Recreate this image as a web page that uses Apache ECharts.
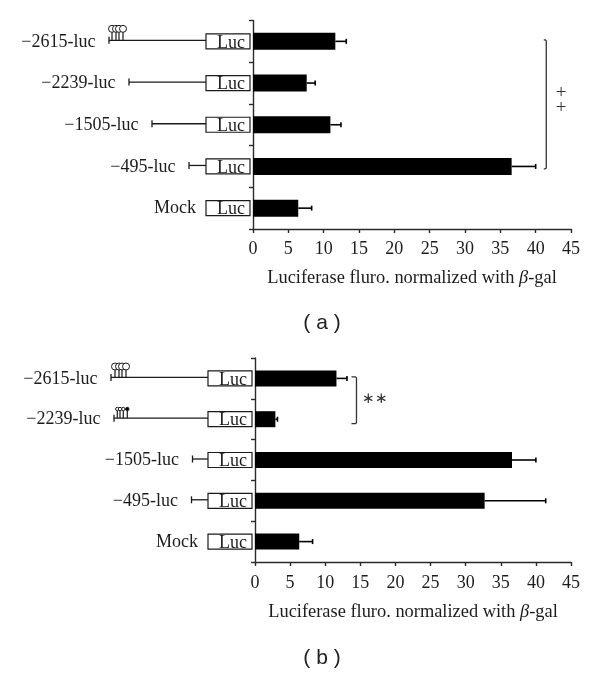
<!DOCTYPE html>
<html>
<head>
  <meta charset="UTF-8">
  <title>Luciferase</title>
  <style>
    html, body { margin: 0; padding: 0; background: #fff; }
    #main { width: 600px; height: 673px; }
  </style>
</head>
<body>
<div id="main"></div>
<script src="https://cdn.jsdelivr.net/npm/echarts@6/dist/echarts.min.js"></script>
<script>
  // bar values and the right end of each error bar
  const labelsA = ['−2615-luc', '−2239-luc', '−1505-luc', '−495-luc', 'Mock'];
  const valuesA = [11.65, 7.6, 10.95, 36.6, 6.4];
  const errorsA = [13.2, 8.8, 12.45, 40.0, 8.3];
  const labelsB = ['−2615-luc', '−2239-luc', '−1505-luc', '−495-luc', 'Mock'];
  const valuesB = [11.6, 2.9, 36.6, 32.7, 6.3];
  const errorsB = [13.1, 3.2, 40.0, 41.4, 8.2];

  // construct length upstream of the Luc box, in schematic units
  const lengthsA = [97, 77, 54, 17, 0];
  const lengthsB = [97, 94, 15.5, 16.5, 0];
  // lollipop sites on the constructs: [row, position]
  const sitesA = [[0, 94], [0, 90], [0, 87], [0, 83]];
  const sitesB = [[0, 93], [0, 89], [0, 86], [0, 82]];
  const smallSitesB = [[1, 90.7], [1, 88], [1, 84.7], [1, 80.7]];

  // significance brackets: [value, first row, last row]
  const bracketA = [41.5, 0, 3];
  const bracketB = [14.45, 0, 1];

  const xTicks = [0, 45, 5];
  const axisColor = '#2a2a2a';
  const textColor = '#1c1c1c';
  const serif = '"Liberation Serif"';

  function errorSeries(xi, values, errors) {
    return {
      type: 'custom',
      xAxisIndex: xi,
      yAxisIndex: xi,
      clip: false,
      data: values.map(function (v, i) { return [v, i, errors[i]]; }),
      renderItem: function (params, api) {
        let a = api.coord([api.value(0), api.value(1)]);
        let b = api.coord([api.value(2), api.value(1)]);
        let style = { stroke: '#000', lineWidth: 1.6, fill: null };
        return {
          type: 'group',
          children: [
            { type: 'line', shape: { x1: a[0], y1: a[1], x2: b[0], y2: b[1] }, style: style },
            { type: 'line', shape: { x1: b[0], y1: b[1] - 2.5, x2: b[0], y2: b[1] + 2.5 }, style: style },
          ],
        };
      },
    };
  }

  function bracketSeries(xi, bracket, hook, topOff, bottomOff) {
    return {
      type: 'custom',
      xAxisIndex: xi,
      yAxisIndex: xi,
      clip: false,
      data: [bracket],
      renderItem: function (params, api) {
        let a = api.coord([api.value(0), api.value(1)]);
        let b = api.coord([api.value(0), api.value(2)]);
        return {
          type: 'polyline',
          shape: {
            points: [
              [a[0] - hook, a[1] + topOff],
              [a[0] - 1, a[1] + topOff],
              [a[0], a[1] + topOff + 1],
              [b[0], b[1] + bottomOff - 1],
              [b[0] - 1, b[1] + bottomOff],
              [b[0] - hook, b[1] + bottomOff],
            ],
          },
          style: { stroke: '#333', lineWidth: 1.3, fill: null },
        };
      },
    };
  }

  // the promoter line, the Luc box and the row label
  function constructSeries(xi, labels, lengths) {
    return {
      type: 'custom',
      xAxisIndex: xi,
      yAxisIndex: xi,
      clip: false,
      z: 3,
      data: lengths.map(function (v, i) { return [v, i]; }),
      renderItem: function (params, api) {
        let i = api.value(1);
        let s = api.coord([api.value(0), i]);
        let box = api.coord([0, i]);
        let lineStyle = { stroke: '#1a1a1a', lineWidth: 1.3, fill: null };
        let children = [];
        if (api.value(0) > 0) {
          children.push({ type: 'line', shape: { x1: s[0], y1: s[1] - 1, x2: box[0], y2: s[1] - 1 }, style: lineStyle });
          children.push({ type: 'line', shape: { x1: s[0], y1: s[1] - 4.5, x2: s[0], y2: s[1] + 2.5 }, style: lineStyle });
        }
        children.push({
          type: 'rect',
          shape: { x: box[0], y: box[1] - 7.5, width: 44, height: 15 },
          style: { fill: '#fff', stroke: '#1a1a1a', lineWidth: 1.2 },
        });
        children.push({
          type: 'text',
          style: {
            x: box[0] + 25, y: box[1] + 1.5, text: 'Luc', fill: textColor,
            font: '18px ' + serif, align: 'center', verticalAlign: 'middle',
          },
        });
        children.push({
          type: 'text',
          style: {
            x: s[0] - (api.value(0) > 0 ? 13.5 : 10), y: s[1] + 0.5, text: labels[i], fill: textColor,
            font: '18px ' + serif, align: 'right', verticalAlign: 'middle',
          },
        });
        return { type: 'group', children: children };
      },
    };
  }

  function siteSeries(xi, sites, r, stem, lastFilled) {
    return {
      type: 'custom',
      xAxisIndex: xi,
      yAxisIndex: xi,
      clip: false,
      z: 4,
      data: sites.map(function (d) { return [d[1], d[0]]; }),
      renderItem: function (params, api) {
        let p = api.coord([api.value(0), api.value(1)]);
        let last = params.dataIndex === sites.length - 1;
        return {
          type: 'group',
          children: [
            { type: 'line', shape: { x1: p[0], y1: p[1] - 1, x2: p[0], y2: p[1] - stem }, style: { stroke: '#1a1a1a', lineWidth: 1.2 } },
            {
              type: 'circle',
              shape: { cx: p[0], cy: p[1] - stem - r, r: r },
              style: { fill: lastFilled && last ? '#000' : '#fff', stroke: '#1a1a1a', lineWidth: 1 },
            },
          ],
        };
      },
    };
  }

  function markSeries(xi, value, row, marks) {
    return {
      type: 'custom',
      xAxisIndex: xi,
      yAxisIndex: xi,
      clip: false,
      data: [[value, row]],
      renderItem: function (params, api) {
        let p = api.coord([api.value(0), api.value(1)]);
        return {
          type: 'group',
          children: marks.map(function (m) {
            return {
              type: 'text',
              style: {
                x: p[0] + m[1], y: p[1] + m[2], text: m[0], fill: '#333',
                font: m[3] + 'px ' + serif, align: 'center', verticalAlign: 'middle',
              },
            };
          }),
        };
      },
    };
  }

  function barAxis(gridIndex, nameGap, margin) {
    return {
      type: 'value',
      gridIndex: gridIndex,
      min: xTicks[0],
      max: xTicks[1],
      interval: xTicks[2],
      splitLine: { show: false },
      axisLine: { show: true, lineStyle: { color: axisColor, width: 1.4 } },
      axisTick: { show: true, length: 4, lineStyle: { color: axisColor, width: 1.4 } },
      axisLabel: { color: textColor, fontFamily: serif, fontSize: 18, margin: margin, showMinLabel: true, showMaxLabel: true },
      name: '{n|Luciferase fluro. normalized with }{b|β}{n|-gal}',
      nameLocation: 'middle',
      nameGap: nameGap,
      nameTextStyle: {
        rich: {
          n: { fontFamily: serif, fontSize: 18.4, color: textColor },
          b: { fontFamily: serif, fontSize: 18.4, fontStyle: 'italic', color: textColor },
        },
      },
    };
  }

  function hiddenX(gridIndex, max) {
    return { type: 'value', gridIndex: gridIndex, min: 0, max: max, inverse: true, show: false, splitLine: { show: false } };
  }

  function catY(gridIndex, labels, visible) {
    return {
      type: 'category',
      gridIndex: gridIndex,
      data: labels,
      inverse: true,
      show: visible,
      axisLine: { show: true, lineStyle: { color: axisColor, width: 1.4 } },
      axisTick: { show: true, length: 4, lineStyle: { color: axisColor, width: 1.4 } },
      axisLabel: { show: false },
    };
  }

  function bars(xi, values, width) {
    return { type: 'bar', xAxisIndex: xi, yAxisIndex: xi, data: values, barWidth: width, itemStyle: { color: '#000' }, silent: true };
  }

  let myChart = echarts.init(document.getElementById('main'), null, { renderer: 'canvas' });
  myChart.setOption({
    animation: false,
    backgroundColor: '#fff',
    grid: [
      { left: 253, top: 20.5, width: 318, height: 208.5 },
      { left: 0, top: 20.5, width: 206, height: 208.5 },
      { left: 255, top: 358, width: 316, height: 204 },
      { left: 0, top: 358, width: 208, height: 204 },
    ],
    xAxis: [barAxis(0, 40, 11), hiddenX(1, 206), barAxis(2, 41, 12), hiddenX(3, 208)],
    yAxis: [catY(0, labelsA, true), catY(1, labelsA, false), catY(2, labelsB, true), catY(3, labelsB, false)],
    series: [
      bars(0, valuesA, 17),
      errorSeries(0, valuesA, errorsA),
      bracketSeries(0, bracketA, 2.5, -1.5, 2.5),
      markSeries(0, 43.6, 1, [['+', 0, 10, 19], ['+', 0, 24.5, 19]]),
      constructSeries(1, labelsA, lengthsA),
      siteSeries(1, sitesA, 3.5, 9, false),

      bars(2, valuesB, 16),
      errorSeries(2, valuesB, errorsB),
      bracketSeries(2, bracketB, 5, -1.5, 4.5),
      markSeries(2, 14.45, 0, [['∗', 12, 21, 15], ['∗', 25, 21, 15]]),
      constructSeries(3, labelsB, lengthsB),
      siteSeries(3, sitesB, 3.5, 8.4, false),
      siteSeries(3, smallSitesB, 1.7, 8.5, true),
    ],
    graphic: [
      { type: 'text', x: 322, y: 323, style: { text: '( a )', fill: '#222', font: '21px "Liberation Sans"', align: 'center', verticalAlign: 'middle' } },
      { type: 'text', x: 322, y: 658, style: { text: '( b )', fill: '#222', font: '21px "Liberation Sans"', align: 'center', verticalAlign: 'middle' } },
    ],
  });

  window.addEventListener("resize", function () {
    myChart.resize();
  });
</script>
</body>
</html>
